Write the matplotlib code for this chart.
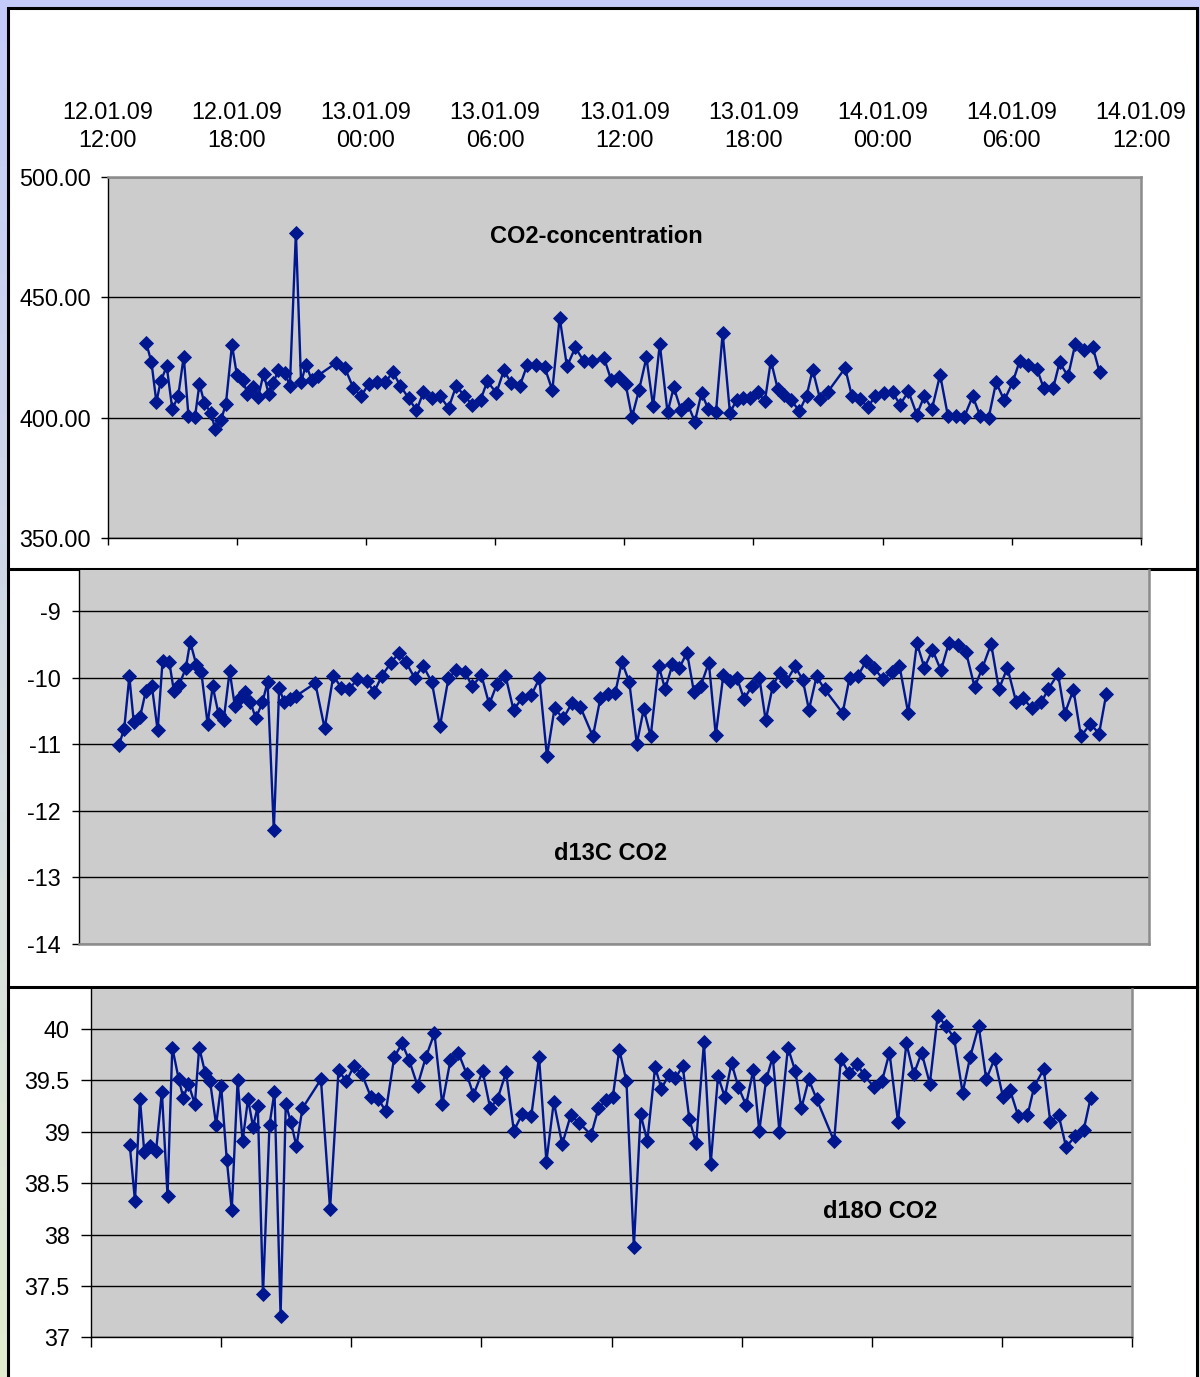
import numpy as np
import pandas as pd
import matplotlib
matplotlib.use('Agg')
import matplotlib.pyplot as plt
import matplotlib.dates as mdates
from matplotlib.patches import Rectangle
from matplotlib.lines import Line2D

plt.rcParams['font.family'] = ['Liberation Sans', 'DejaVu Sans']
plt.rcParams['axes.unicode_minus'] = False

# sample times, hours after 12.01.09 12:00
hours = [1.80, 2.04, 2.27, 2.47, 2.75, 3.01, 3.28, 3.54, 3.76, 4.06, 4.27, 4.50, 4.80,
         5.00, 5.28, 5.50, 5.78, 6.01, 6.27, 6.50, 6.77, 7.00, 7.25, 7.48, 7.70, 7.94,
         8.24, 8.47, 8.75, 8.99, 9.22, 9.48, 9.76,
         10.61, 11.03, 11.42, 11.78, 12.13, 12.50, 12.91, 13.25, 13.60, 13.99, 14.35,
         14.67, 15.06, 15.45, 15.84, 16.20, 16.58, 16.94, 17.33, 17.64, 18.06, 18.41,
         18.75, 19.14, 19.50, 19.88, 20.30, 20.66, 21.00, 21.34, 21.73, 22.12, 22.50,
         23.06, 23.40, 23.76, 24.06, 24.36, 24.69, 25.03, 25.34, 25.65, 26.01, 26.30,
         26.63, 26.94, 27.28, 27.59, 27.90, 28.26, 28.57, 28.91, 29.22, 29.53, 29.84,
         30.20, 30.53, 30.81, 31.13, 31.43, 31.74, 32.13, 32.47, 32.75, 33.09, 33.45,
         34.26, 34.57, 34.95, 35.31, 35.65, 36.08, 36.46, 36.81, 37.20, 37.59, 37.93,
         38.29, 38.67, 39.03, 39.42, 39.79, 40.18, 40.53, 40.92, 41.27, 41.65, 42.04,
         42.36, 42.75, 43.17, 43.48, 43.92, 44.22, 44.61, 44.95, 45.37, 45.76, 46.08]

co2 = [431.0, 423.1, 406.5, 415.1, 421.3, 403.6, 408.8, 425.4, 400.8, 400.1, 414.0,
       406.1, 402.0, 395.3, 399.2, 405.8, 430.2, 417.8, 415.8, 410.0, 412.7, 408.6,
       418.3, 410.0, 414.4, 419.9, 418.5, 413.3, 476.9, 414.7, 422.0, 415.8, 417.4,
       422.7, 420.6, 412.3, 408.9, 414.1, 414.7, 414.7, 419.0, 413.3, 408.0, 403.0,
       410.5, 408.0, 408.9, 404.0, 413.3, 408.9, 405.4, 407.5, 415.1, 410.3, 419.6,
       414.4, 413.0, 422.0, 422.0, 421.0, 411.4, 441.6, 421.3, 429.2, 423.4, 423.4,
       424.8, 415.5, 416.9, 414.1, 400.3, 411.6, 425.0, 404.7, 430.6, 402.2, 412.6,
       403.3, 405.8, 398.3, 410.3, 403.6, 402.2, 435.1, 401.9, 407.5, 408.2, 408.2,
       410.7, 406.8, 423.7, 411.9, 409.5, 407.5, 402.7, 409.1, 419.9, 407.9, 410.7,
       420.6, 409.1, 407.8, 404.3, 408.9, 410.3, 410.5, 405.4, 410.9, 401.2, 408.9,
       403.6, 417.8, 400.8, 400.8, 400.3, 408.9, 400.8, 399.8, 414.7, 407.2, 414.7,
       423.4, 422.0, 420.2, 412.3, 412.3, 423.0, 417.2, 430.7, 428.0, 429.3, 418.8]

d13c = [-11.01, -10.77, -9.98, -10.67, -10.59, -10.20, -10.12, -10.79, -9.75, -9.76,
        -10.20, -10.11, -9.86, -9.46, -9.81, -9.92, -10.69, -10.13, -10.54, -10.64,
        -9.90, -10.42, -10.31, -10.22, -10.36, -10.61, -10.37, -10.06, -12.29, -10.16,
        -10.36, -10.32, -10.27,
        -10.08, -10.76, -9.97, -10.15, -10.17, -10.02, -10.05, -10.21, -9.97, -9.78,
        -9.63, -9.76, -10.00, -9.82, -10.07, -10.73, -10.01, -9.88, -9.91, -10.13,
        -9.96, -10.40, -10.10, -9.97, -10.48, -10.31, -10.26, -10.01, -11.18, -10.46,
        -10.61, -10.38, -10.44, -10.88, -10.30, -10.25, -10.23, -9.76, -10.06, -10.99,
        -10.47, -10.88, -9.82, -10.17, -9.80, -9.85, -9.62, -10.21, -10.12, -9.77,
        -10.86, -9.96, -10.05, -10.01, -10.32, -10.12, -10.01, -10.64, -10.12, -9.93,
        -10.05, -9.83, -10.03, -10.48, -9.98, -10.17,
        -10.53, -10.00, -9.97, -9.75, -9.85, -10.02, -9.91, -9.82, -10.53, -9.48,
        -9.85, -9.58, -9.89, -9.47, -9.50, -9.61, -10.14, -9.85, -9.49, -10.17,
        -9.85, -10.36, -10.31, -10.46, -10.37, -10.17, -9.94, -10.54, -10.18, -10.88,
        -10.69, -10.84, -10.25]

d18o = [38.87, 38.33, 39.32, 38.80, 38.86, 38.81, 39.39, 38.38, 39.82, 39.51, 39.33,
        39.47, 39.27, 39.82, 39.57, 39.49, 39.07, 39.45, 38.73, 38.24, 39.50, 38.91,
        39.32, 39.05, 39.25, 37.42, 39.07, 39.39, 37.21, 39.27, 39.10, 38.86, 39.23,
        39.51, 38.25, 39.60, 39.49, 39.64, 39.56, 39.34, 39.32, 39.20, 39.73, 39.86,
        39.70, 39.45, 39.73, 39.96, 39.27, 39.70, 39.77, 39.56, 39.36, 39.59, 39.23,
        39.32, 39.58, 39.01, 39.17, 39.15, 39.73, 38.71, 39.29, 38.88, 39.16, 39.09,
        38.97, 39.23, 39.31, 39.34, 39.80, 39.49, 37.88, 39.17, 38.91, 39.63, 39.42,
        39.55, 39.52, 39.64, 39.12, 38.89, 39.87, 38.69, 39.54, 39.34, 39.67, 39.44,
        39.26, 39.60, 39.01, 39.51, 39.73, 39.00, 39.82, 39.59, 39.23, 39.51, 39.32,
        38.91, 39.71, 39.57, 39.66, 39.55, 39.44, 39.49, 39.77, 39.10, 39.86, 39.56,
        39.77, 39.47, 40.13, 40.03, 39.91, 39.38, 39.73, 40.03, 39.51, 39.71, 39.34,
        39.41, 39.15, 39.16, 39.44, 39.61, 39.10, 39.16, 38.85, 38.96, 39.02, 39.33]

start = pd.Timestamp('2009-01-12 12:00')
times = start + pd.to_timedelta(hours, unit='h')
tick_times = pd.date_range(start, start + pd.Timedelta(hours=48), freq='6h')

BLUE = '#00178f'
GRAY_BG = '#cccccc'
W, H = 1200, 1377

fig = plt.figure(figsize=(12, 13.77), dpi=100)

# background gradient strip (lavender top -> pale green bottom)
bg = fig.add_axes([0, 0, 1, 1], zorder=-10)
grad = np.linspace(0, 1, 256)[:, None]
top_c = np.array([196, 203, 250]) / 255
bot_c = np.array([226, 236, 206]) / 255
img = top_c[None, None, :] * (1 - grad[..., None]) + bot_c[None, None, :] * grad[..., None]
bg.imshow(img, aspect='auto', extent=[0, 1, 0, 1])
bg.set_xlim(0, 1)
bg.set_ylim(0, 1)
bg.axis('off')

# white chart panel with black frame
fig.patches.append(Rectangle((8 / W, -0.01), (1197 - 8) / W, 1 - 8 / H + 0.01,
                             transform=fig.transFigure, facecolor='white',
                             edgecolor='black', linewidth=2.2, zorder=-5))
for ysep in (569, 987):
    fig.lines.append(Line2D([8 / W, 1197 / W], [1 - ysep / H] * 2,
                            transform=fig.transFigure, color='black', lw=2.2, zorder=-4))


def make_axes(left, right, top, bottom):
    ax = fig.add_axes([left / W, 1 - bottom / H, (right - left) / W, (bottom - top) / H])
    ax.set_facecolor(GRAY_BG)
    ax.set_axisbelow(True)
    ax.yaxis.grid(True, color='black', lw=1.0)
    for s in ('top', 'right'):
        ax.spines[s].set_color('#8c8c8c')
        ax.spines[s].set_linewidth(1.8)
    for s in ('left', 'bottom'):
        ax.spines[s].set_color('black')
        ax.spines[s].set_linewidth(1.0)
    ax.set_xlim(start, start + pd.Timedelta(hours=48))
    ax.set_xticks(tick_times)
    return ax


def draw(ax, values):
    ax.plot(times, values, color=BLUE, lw=1.7, marker='D', ms=7.3,
            mfc=BLUE, mec=BLUE, mew=0.6, clip_on=False, zorder=3)


# --- CO2 concentration ---
ax1 = make_axes(107.5, 1141, 177, 538)
draw(ax1, co2)
ax1.set_ylim(350, 500)
ax1.set_yticks([350, 400, 450, 500])
ax1.yaxis.set_major_formatter(plt.FormatStrFormatter('%.2f'))
ax1.xaxis.set_major_formatter(mdates.DateFormatter('%d.%m.%y\n%H:%M'))
ax1.tick_params(axis='x', bottom=True, top=False, labelbottom=False, labeltop=True,
                length=5, width=1, pad=13, labelsize=16.8)
ax1.tick_params(axis='y', length=5, width=1, pad=7, labelsize=16.8)
for lab in ax1.get_xticklabels():
    lab.set_linespacing(1.3)
ax1.text(0.4727, 0.834, 'CO2-concentration', transform=ax1.transAxes,
         ha='center', va='center', fontsize=17, fontweight='bold')

# --- d13C ---
ax2 = make_axes(78.7, 1149, 570, 944)
draw(ax2, d13c)
ax2.set_ylim(-14, -8.38)
ax2.set_yticks([-14, -13, -12, -11, -10, -9])
ax2.yaxis.set_major_formatter(plt.FormatStrFormatter('%d'))
ax2.spines['top'].set_visible(False)
ax2.spines['bottom'].set_color('#8c8c8c')
ax2.spines['bottom'].set_linewidth(1.8)
ax2.tick_params(axis='x', bottom=False, labelbottom=False)
ax2.tick_params(axis='y', length=5, width=1, pad=8, labelsize=16.8)
ax2.text(0.4973, 0.243, 'd13C CO2', transform=ax2.transAxes,
         ha='center', va='center', fontsize=17, fontweight='bold')

# --- d18O ---
ax3 = make_axes(90.7, 1132.3, 989, 1337.3)
draw(ax3, d18o)
ax3.set_ylim(37, 40.39)
ax3.set_yticks([37, 37.5, 38, 38.5, 39, 39.5, 40])
ax3.yaxis.set_major_formatter(plt.FormatStrFormatter('%g'))
ax3.spines['top'].set_visible(False)
ax3.tick_params(axis='x', bottom=True, labelbottom=False, length=7, width=1)
ax3.tick_params(axis='y', length=7, width=1, pad=8, labelsize=16.8)
ax3.text(0.7578, 0.36, 'd18O CO2', transform=ax3.transAxes,
         ha='center', va='center', fontsize=17, fontweight='bold')

fig.savefig('out.png', dpi=100)
